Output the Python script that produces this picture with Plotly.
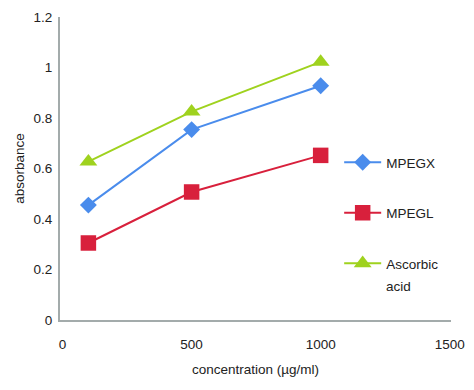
import plotly.graph_objects as go

concentration = [100, 500, 1000]
mpegx = [0.455, 0.754, 0.928]
mpegl = [0.305, 0.507, 0.652]
ascorbic = [0.627, 0.825, 1.022]

series_names = ["MPEGX", "MPEGL", "Ascorbic"]
series_colors = ["#4a8cec", "#d8203c", "#9fd21e"]
series_symbols = ["diamond", "square", "triangle-up"]
series_sizes = [13, 15.5, 15.5]

fig = go.Figure()
for i, (name, vals) in enumerate(zip(series_names, [mpegx, mpegl, ascorbic])):
    fig.add_trace(go.Scatter(
        x=concentration, y=vals, name=name, mode="lines+markers",
        line=dict(color=series_colors[i], width=2),
        marker=dict(symbol=series_symbols[i], size=series_sizes[i], color=series_colors[i]),
        legendgroup=f"g{i}",
    ))

# second line of the "Ascorbic acid" legend label
fig.add_annotation(text="acid", xref="paper", yref="paper", x=0.828, y=0.109,
                   xanchor="left", yanchor="middle", showarrow=False,
                   font=dict(size=13.5, color="#222222"))

axis_color = "#a3abab"
font_family = "Liberation Sans, Arial, sans-serif"
fig.update_layout(
    width=458, height=374,
    margin=dict(l=52, r=15, t=9, b=62, autoexpand=False),
    paper_bgcolor="white", plot_bgcolor="white",
    font=dict(family=font_family, size=13.5, color="#222222"),
    showlegend=True,
    legend=dict(x=0.714, y=0.571, xanchor="left", yanchor="top",
                bgcolor="rgba(0,0,0,0)", tracegroupgap=30,
                font=dict(size=13.5), itemwidth=37),
    xaxis=dict(range=[-10, 1505], tickvals=[0, 500, 1000, 1500],
               automargin=False,
               showgrid=False, zeroline=False, showline=True,
               linecolor=axis_color, linewidth=2,
               ticks="outside", ticklen=11, tickcolor="rgba(0,0,0,0)",
               tickfont=dict(size=13.5),
               title=dict(text="concentration (µg/ml)", standoff=13, font=dict(size=13.5))),
    yaxis=dict(range=[0, 1.2], tickvals=[0, 0.2, 0.4, 0.6, 0.8, 1, 1.2],
               ticktext=["0", "0.2", "0.4", "0.6", "0.8", "1", "1.2"],
               automargin=False,
               showgrid=False, zeroline=False, showline=True,
               linecolor=axis_color, linewidth=2,
               ticks="outside", ticklen=3, tickcolor="rgba(0,0,0,0)",
               tickfont=dict(size=13.5),
               title=dict(text="absorbance", standoff=6, font=dict(size=13.5))),
)

fig.write_html("out.html")
